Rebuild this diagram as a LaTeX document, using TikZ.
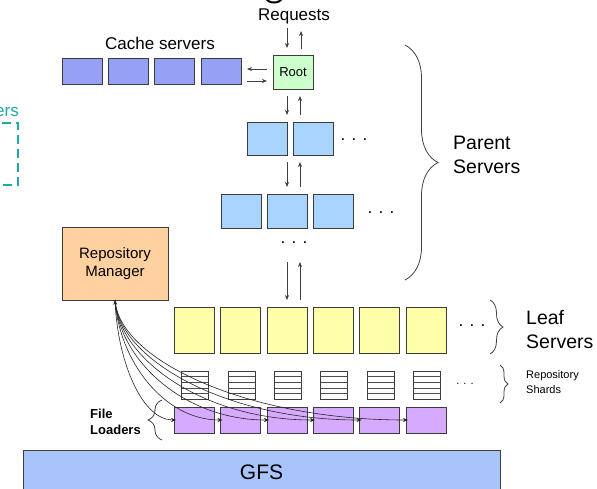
\documentclass[tikz,border=0pt]{standalone}
\usepackage{fontspec}
\setmainfont{Liberation Sans}
\usetikzlibrary{arrows.meta,calc,decorations.pathreplacing}
\definecolor{cacheC}{RGB}{150,160,245}
\definecolor{rootC}{RGB}{204,255,204}
\definecolor{parentC}{RGB}{168,212,255}
\definecolor{leafC}{RGB}{255,255,170}
\definecolor{rmC}{RGB}{255,208,160}
\definecolor{flC}{RGB}{214,170,255}
\definecolor{gfsC}{RGB}{168,196,250}
\definecolor{tealC}{RGB}{30,170,165}
\definecolor{borderC}{RGB}{60,60,60}
\begin{document}
\begin{tikzpicture}[x=1pt,y=-1pt,
  box/.style={draw=borderC, line width=0.8pt, inner sep=0pt, outer sep=0pt},
  cachebox/.style={box, fill=cacheC, minimum width=40pt, minimum height=26pt},
  parentbox/.style={box, fill=parentC, minimum width=40pt, minimum height=34pt},
  leafbox/.style={box, fill=leafC, minimum width=40pt, minimum height=46pt},
  flbox/.style={box, fill=flC, minimum width=40pt, minimum height=26pt},
  shardbox/.style={box, line width=0.7pt, fill=white, minimum width=27pt, minimum height=28pt},
  arr/.style={draw=black!75, line width=0.7pt, -{Stealth[length=5pt,width=4pt]}},
  curve/.style={draw=black!85, line width=0.6pt, -{Stealth[length=5pt,width=4pt]}},
  lbl/.style={inner sep=0pt, font=\fontsize{17}{20}\selectfont},
  big/.style={inner sep=0pt, align=left, font=\fontsize{19.5}{24}\selectfont},
  dots/.style={inner sep=0pt, font=\fontsize{17}{20}\selectfont},
  brc/.style={draw=black!75, line width=0.8pt, decorate, decoration={brace, amplitude=#1}},
]
\useasboundingbox (0,0) rectangle (597,488);

% fragments of neighbouring content
\draw[line width=2pt] (266,-2) .. controls (268,4) and (280,4) .. (282,-2);
\node[anchor=east, inner sep=0pt, text=tealC, font=\fontsize{17}{20}\selectfont] (ers) at (19,112) {ers};
\draw[tealC, line width=2.5pt, dash pattern=on 9pt off 5pt] (-40,123) -- (18,123) -- (18,185) -- (-40,185);

% top
\node[lbl] (req) at (294,16) {Requests};
\node[lbl] (cachelbl) at (160,43) {Cache servers};
\node[box, fill=rootC, minimum width=40pt, minimum height=34pt, font=\fontsize{13}{15}\selectfont] (root) at (293,72) {Root};
\foreach \i/\x in {1/82,2/128,3/174,4/221}
  \node[cachebox] (c\i) at (\x,71) {};

% parent servers
\node[parentbox, minimum height=33pt] (p1a) at (267,138.5) {};
\node[parentbox, minimum height=33pt] (p1b) at (313,138.5) {};
\node[parentbox] (p2a) at (241,211) {};
\node[parentbox] (p2b) at (287,211) {};
\node[parentbox] (p2c) at (333,211) {};
\node[dots] (d1) at (354,140) {. . .};
\node[dots] (d2) at (381,213) {. . .};
\node[dots] (d3) at (294,243) {. . .};

% leaf, shards, loaders
\foreach \i/\x in {1/194,2/240.5,3/287,4/333,5/379.5,6/426} {
  \node[leafbox] (l\i) at (\x,330) {};
  \node[shardbox] (s\i) at (\x+1,385) {};
  \foreach \f in {0.2,0.4,0.6,0.8}
    \draw[black!70, line width=0.6pt] ($(s\i.north west)!\f!(s\i.south west)$) -- ($(s\i.north east)!\f!(s\i.south east)$);
  \node[flbox] (f\i) at (\x,420) {};
}
\node[dots] (d4) at (472,326) {. . .};
\node[dots, font=\fontsize{11}{13}\selectfont] (d5) at (465,384) {. . .};

% GFS and repository manager
\node[box, fill=gfsC, minimum width=477pt, minimum height=44pt, font=\fontsize{21}{24}\selectfont] (gfs) at (261.5,472) {GFS};
\node[box, fill=rmC, minimum width=106pt, minimum height=73pt, align=center, font=\fontsize{15}{18}\selectfont] (rm) at (115,263.5) {Repository\\Manager};

% arrows
\draw[arr] ($(root.north)+(-6,-27)$) -- ($(root.north)+(-6,-7)$);
\draw[arr] ($(root.north)+(8,-6)$) -- ($(root.north)+(8,-24)$);
\draw[arr] ($(root.west)+(-6,-3)$) -- ($(c4.east)+(6,-2)$);
\draw[arr] ($(c4.east)+(6,10)$) -- ($(root.west)+(-6,9)$);
\draw[arr] ($(root.south)+(-6,7)$) -- ($(root.south)+(-6,26)$);
\draw[arr] ($(root.south)+(7,26)$) -- ($(root.south)+(7,7)$);
\draw[arr] ($(p1a.south east)+(0,7)$) -- ($(p1a.south east)+(0,32)$);
\draw[arr] ($(p1a.south east)+(13,32)$) -- ($(p1a.south east)+(13,7)$);
\draw[arr] ($(l3.north)+(0,-45)$) -- ($(l3.north)+(0,-7)$);
\draw[arr] ($(l3.north)+(13,-7)$) -- ($(l3.north)+(13,-45)$);

% curves from repository manager to file loaders
\draw[curve, {Stealth[length=5pt,width=4pt]}-{Stealth[length=5pt,width=4pt]}] (rm.south) .. controls +(3,62) and +(-34,0) .. ([xshift=2pt]f1.west);
\foreach \i/\k in {2/59,3/85,4/110,5/135,6/161}
  \draw[curve] (rm.south) .. controls +(4,60) and +(-\k,0) .. ([xshift=2pt]f\i.west);

% braces and labels
\draw[brc=33] (405,45) -- (405,280);
\draw[brc=13] (490,300) -- (490,354);
\draw[brc=8] (500,365) -- (500,403);
\draw[brc=14] (162,440) -- (162,400);
\node[big, anchor=west] (parentlbl) at (453,155) {Parent\\Servers};
\node[big, anchor=west] (leaflbl) at (526,330) {Leaf\\Servers};
\node[inner sep=0pt, anchor=west, align=left, font=\fontsize{11}{15}\selectfont] (shardlbl) at (526,382.5) {Repository\\Shards};
\node[inner sep=0pt, anchor=west, align=left, font=\bfseries\fontsize{13}{16}\selectfont] (fllbl) at (90,422) {File\\Loaders};
\end{tikzpicture}
\end{document}
